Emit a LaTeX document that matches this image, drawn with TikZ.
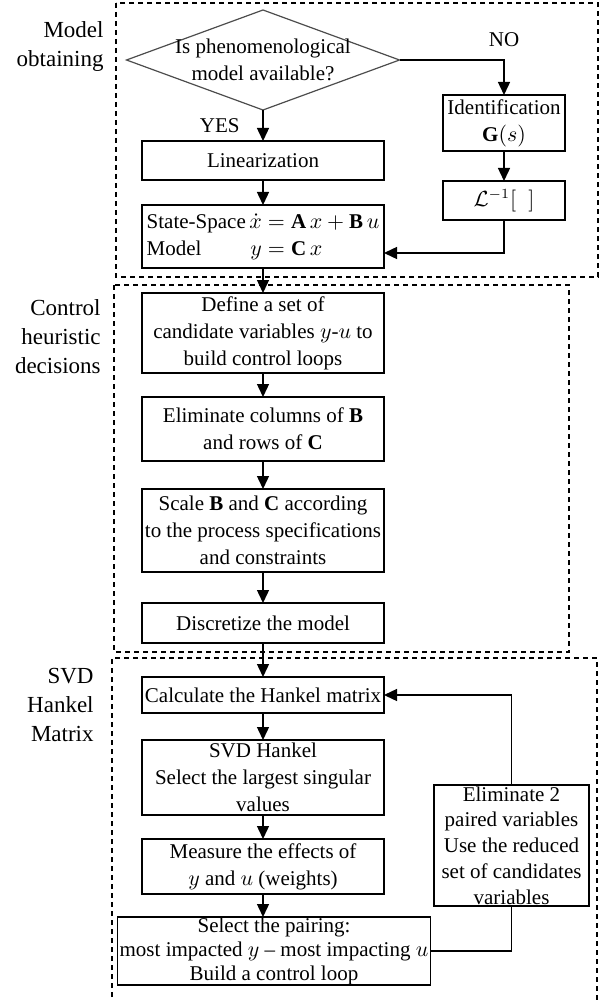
\documentclass[tikz,border=0pt]{standalone}
\usepackage{fontspec}
\setmainfont{Liberation Serif}
\usepackage{amsmath}
\usetikzlibrary{positioning,shapes.geometric,arrows.meta}

\begin{document}
\begin{tikzpicture}[x=0.5pt, y=-0.5pt,
  font=\fontsize{10.5}{13.5}\selectfont,
  process/.style={draw, line width=0.7pt, align=center, inner xsep=1pt, inner ysep=0pt, outer sep=0pt, minimum width=121pt},
  decision/.style={draw=black!70, shape=diamond, line width=0.6pt, inner sep=0pt, outer sep=0pt, minimum width=136.5pt, minimum height=50pt},
  frame/.style={dash pattern=on 2.5pt off 2pt, line width=0.7pt},
  sidelabel/.style={align=right, anchor=east, inner sep=0pt, font=\fontsize{11.5}{14.5}\selectfont},
  flow/.style={-{Triangle[length=6.5pt,width=6pt]}, line width=0.7pt},
  link/.style={line width=0.7pt}]

\useasboundingbox (0,0) rectangle (603,1000);

% dashed stage frames
\draw[frame] (116,3) rectangle (598,277);
\draw[frame] (114,285) rectangle (569,652);
\draw[frame] (112,997) -- (112,658) -- (597,658) -- (597,1000);

% stage names
\node[sidelabel] (lblmodel) at (104,47) {Model\\obtaining};
\node[sidelabel] (lblctrl) at (101,337) {Control\\heuristic\\decisions};
\node[sidelabel] (lblsvd) at (94,705) {SVD\\Hankel\\Matrix};

% main column
\node[decision] (avail) at (263,60) {};
\node[align=center] (availtxt) at (avail) {Is phenomenological\\model available?};
\node[process, minimum height=19.5pt] (lin) [below=15.5pt of avail] {Linearization};
\node[process, minimum height=31.5pt] (ss) [below=12.5pt of lin]
  {\begin{tabular}{@{}l@{\,}l@{}}State-Space & $\dot{x}=\mathbf{A}\,x+\mathbf{B}\,u$\\
   Model & $\phantom{\dot{x}}\llap{$y$}=\mathbf{C}\,x$\end{tabular}};
\node[process, minimum height=40pt] (defset) [below=12.5pt of ss] {Define a set of\\candidate variables $y$-$u$ to\\build control loops};
\node[process, minimum height=32pt] (elim) [below=12pt of defset] {Eliminate columns of \textbf{B}\\and rows of \textbf{C}};
\node[process, minimum height=41.5pt] (scale) [below=14pt of elim] {Scale \textbf{B} and \textbf{C} according\\to the process specifications\\and constraints};
\node[process, minimum height=20pt] (disc) [below=15.5pt of scale] {Discretize the model};
\node[process, minimum height=18pt] (calc) [below=17pt of disc] {Calculate the Hankel matrix};
\node[process, minimum height=37.5pt] (svd) [below=13.5pt of calc] {SVD Hankel\\Select the largest singular\\values};
\node[process, minimum height=27.5pt] (meas) [below=12pt of svd] {Measure the effects of\\$y$ and $u$ (weights)};
\node[process, minimum width=156pt, minimum height=34pt, font=\fontsize{10.5}{12}\selectfont] (pair) [below=11.5pt of meas, xshift=5.5pt]
  {Select the pairing:\\most impacted $y$ -- most impacting $u$\\Build a control loop};

% right column
\node[process, minimum width=61pt, minimum height=28pt] (ident) at (504,123) {Identification\\$\mathbf{G}(s)$};
\node[process, minimum width=61pt, minimum height=19.5pt] (lap) [below=15pt of ident] {$\mathcal{L}^{-1}[\;\;]$};
\node[process, minimum width=77.5pt, minimum height=60.5pt, font=\fontsize{10.5}{12.9}\selectfont] (elim2) at (511.5,845.5)
  {Eliminate 2\\paired variables\\Use the reduced\\set of candidates\\variables};

% connectors
\draw[flow] (avail) -- node[left=8pt, pos=.5] (yes) {YES} (lin);
\draw[flow] (avail.east) -| node[pos=.5, above=3pt] (no) {NO} (ident.north);
\draw[flow] (ident) -- (lap);
\draw[flow] (lap.south) |- ([yshift=7.5pt]ss.south east);
\draw[flow] (lin) -- (ss);
\draw[flow] (ss) -- (defset);
\draw[flow] (defset) -- (elim);
\draw[flow] (elim) -- (scale);
\draw[flow] (scale) -- (disc);
\draw[flow] (disc) -- (calc);
\draw[flow] (calc) -- (svd);
\draw[flow] (svd) -- (meas);
\draw[flow] (meas.south) -- (meas.south |- pair.north);
\draw[link] (pair.east) -| (elim2.south);
\draw[flow] (elim2.north) |- (calc.east);
\end{tikzpicture}
\end{document}
